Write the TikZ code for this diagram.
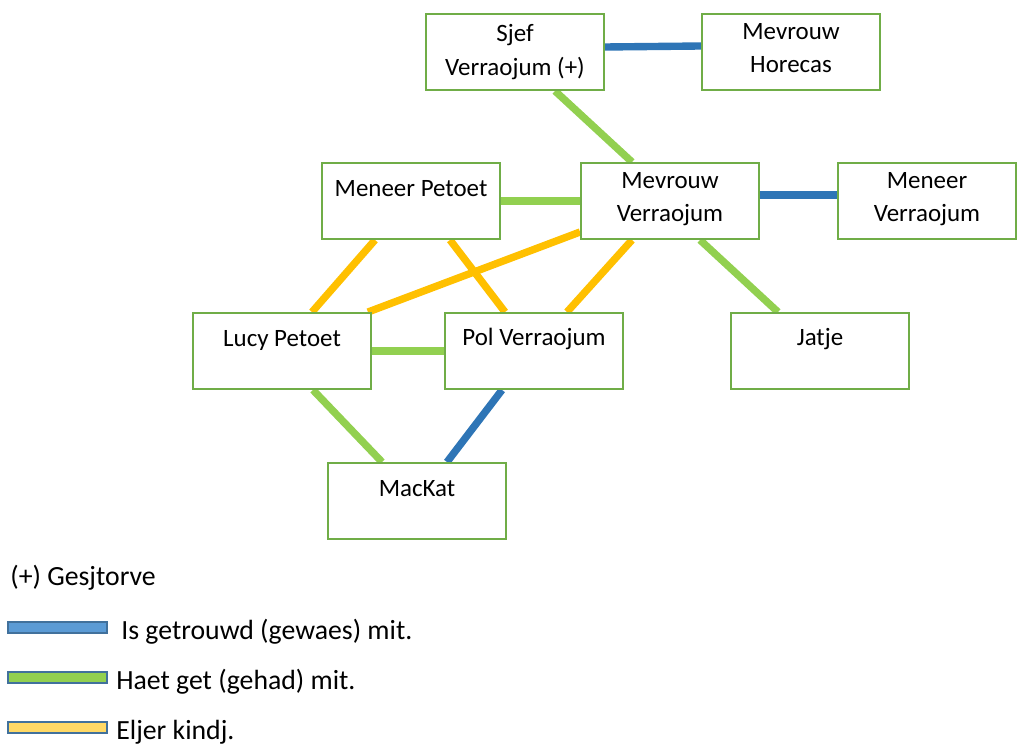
\documentclass[tikz,border=0pt]{standalone}
\usepackage{fontspec}
\setmainfont{Carlito}
\usetikzlibrary{calc,backgrounds}
\definecolor{kaderGroen}{HTML}{70AD47}
\definecolor{lijnBlauw}{HTML}{2E75B6}
\definecolor{lijnGroen}{HTML}{92D050}
\definecolor{lijnGeel}{HTML}{FFC000}
\definecolor{randBlauw}{HTML}{41719C}
\definecolor{vulBlauw}{HTML}{5B9BD5}
\definecolor{vulGeel}{HTML}{FFD966}
\tikzset{
  persoon/.style={draw=kaderGroen, line width=1.1pt, fill=white,
                  minimum width=3.56cm, minimum height=1.52cm, inner sep=0pt},
  naam/.style={anchor=north, align=center, inner sep=0pt,
               font=\fontsize{14.2}{19}\selectfont},
  verbind/.style={line width=4.2pt},
  getrouwd/.style={verbind, draw=lijnBlauw},
  gehad/.style={verbind, draw=lijnGroen},
  kindj/.style={verbind, draw=lijnGeel},
  legtekst/.style={anchor=base west, inner sep=0pt,
                   font=\fontsize{15.8}{19}\selectfont}
}
\begin{document}
\begin{tikzpicture}[x=0.02cm, y=-0.02cm]
  \useasboundingbox (0,0) rectangle (1024,746);

  \node[persoon, label={[naam,yshift=-2.8pt]north:\strut Sjef\\Verraojum (+)}] (sjef) at (515,52) {};
  \node[persoon, label={[naam,yshift=-1.3pt]north:\strut Mevrouw\\Horecas}] (horecas) at (791,52) {};
  \node[persoon, label={[naam,yshift=-6.3pt]north:\strut Meneer Petoet}] (petoet) at (411,201) {};
  \node[persoon, label={[naam,yshift=-1.3pt]north:\strut Mevrouw\\Verraojum}] (mevrouw) at (670,201) {};
  \node[persoon, label={[naam,yshift=-1.3pt]north:\strut Meneer\\Verraojum}] (meneer) at (927,201) {};
  \node[persoon, label={[naam,yshift=-6.3pt]north:\strut Lucy Petoet}] (lucy) at (282,351) {};
  \node[persoon, label={[naam,yshift=-5.8pt]north:\strut Pol Verraojum}] (pol) at (534,351) {};
  \node[persoon, label={[naam,yshift=-5.8pt]north:\strut Jatje}] (jatje) at (820,351) {};
  \node[persoon, label={[naam,yshift=-6.3pt]north:\strut MacKat}] (mackat) at (417,501) {};

  \begin{scope}[on background layer]
    \draw[getrouwd] ($(sjef.east)+(0,-5)$) -- ($(horecas.west)+(0,-6)$);
    \draw[gehad] ($(sjef.south)+(40,0)$) -- ($(mevrouw.north)+(-38,0)$);
    \draw[gehad] (petoet.east) -- (mevrouw.west);
    \draw[getrouwd] ($(mevrouw.east)+(0,-6)$) -- ($(meneer.west)+(0,-6)$);
    \draw[kindj] ($(petoet.south)+(-36,0)$) -- ($(lucy.north)+(30,0)$);
    \draw[kindj] ($(petoet.south)+(39,0)$) -- ($(pol.north)+(-29,0)$);
    \draw[kindj] ($(mevrouw.west)+(0,31)$) -- ($(lucy.north east)+(-4,0)$);
    \draw[kindj] ($(mevrouw.south)+(-38,0)$) -- ($(pol.north)+(33,0)$);
    \draw[gehad] ($(mevrouw.south)+(30,0)$) -- ($(jatje.north)+(-42,0)$);
    \draw[gehad] (lucy.east) -- (pol.west);
    \draw[gehad] ($(lucy.south)+(31,0)$) -- ($(mackat.north)+(-35,0)$);
    \draw[getrouwd] ($(pol.south)+(-32,0)$) -- ($(mackat.north)+(30,0)$);
  \end{scope}

  \node[legtekst] (gesjtorve) at (10,585) {(+) Gesjtorve};
  \foreach \kleur/\y/\dx/\tekst [count=\i] in {vulBlauw/622/5/Is getrouwd (gewaes) mit.,
      lijnGroen/672/0/Haet get (gehad) mit., vulGeel/722/0/Eljer kindj.} {
    \draw[draw=randBlauw, line width=1pt, fill=\kleur] (8,\y) rectangle (107,\y+11);
    \node[legtekst] (leg\i) at (116+\dx,\y+17) {\tekst};
  }
\end{tikzpicture}
\end{document}
